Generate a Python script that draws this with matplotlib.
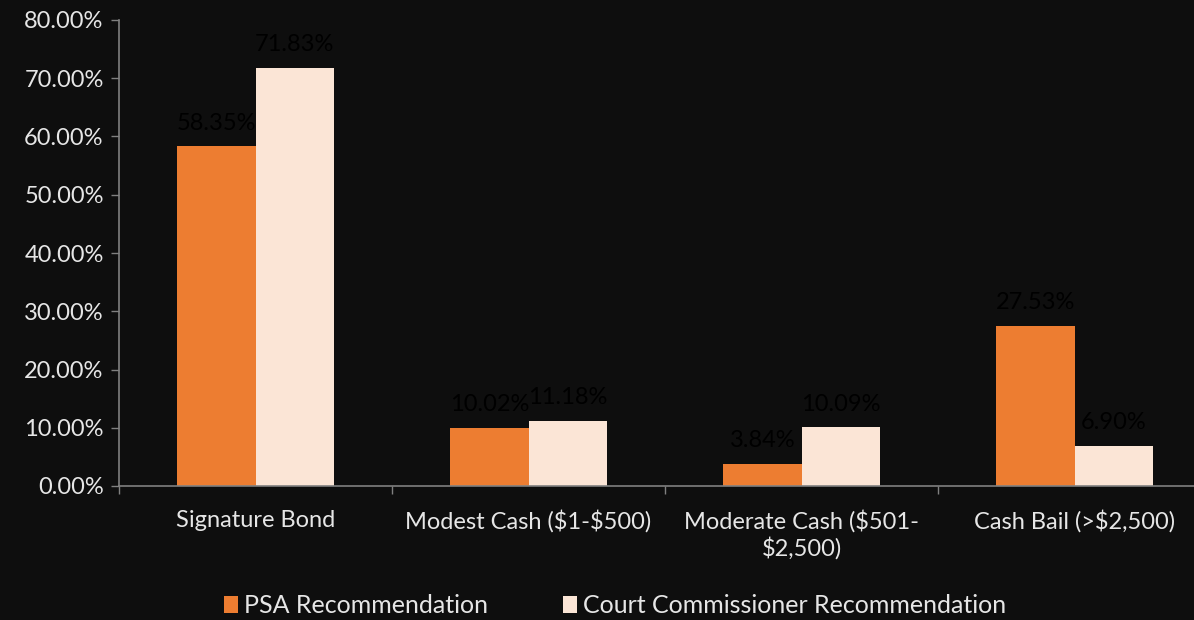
import matplotlib
matplotlib.use("Agg")
import matplotlib.pyplot as plt
import numpy as np
from matplotlib.ticker import MultipleLocator, FuncFormatter

categories = ["Signature Bond", "Modest Cash ($1-$500)",
              "Moderate Cash ($501-\n$2,500)", "Cash Bail (>$2,500)"]
psa = [58.35, 10.02, 3.84, 27.53]
court = [71.83, 11.18, 10.09, 6.90]
series_names = ["PSA Recommendation", "Court Commissioner Recommendation"]

bg = "#0e0e0e"
txt = "#e6e6e6"
orange = "#ed7d31"
peach = "#fbe5d6"

plt.rcParams["font.family"] = ["Lato", "DejaVu Sans"]
plt.rcParams["text.parse_math"] = False

fig = plt.figure(figsize=(11.94, 6.2), dpi=100, facecolor=bg)
ax = fig.add_axes([119 / 1194, 1 - 486 / 620, 1092 / 1194, 466 / 620])
ax.set_facecolor(bg)

fs = 17
x = np.arange(len(categories))
w = 0.287
b1 = ax.bar(x - w / 2, np.array(psa) / 100, w, color=orange, label=series_names[0])
b2 = ax.bar(x + w / 2, np.array(court) / 100, w, color=peach, label=series_names[1])

for bars, vals in ((b1, psa), (b2, court)):
    for r, v in zip(bars, vals):
        ax.annotate(f"{v:.2f}%", (r.get_x() + r.get_width() / 2, r.get_height()),
                    xytext=(0, 9), textcoords="offset points",
                    ha="center", va="bottom", fontsize=fs, color="#000000")

ax.set_xlim(-0.5, len(categories) - 0.5)
ax.set_ylim(0, 0.8)
ax.yaxis.set_major_locator(MultipleLocator(0.1))
ax.yaxis.set_major_formatter(FuncFormatter(lambda v, p: f"{v * 100:.2f}%"))

ax.set_xticks(x)
ax.set_xticklabels(categories, fontsize=fs, color=txt)
ax.set_xticks(np.arange(len(categories) + 1) - 0.5, minor=True)
ax.tick_params(axis="x", which="major", length=0, pad=17)
ax.tick_params(axis="x", which="minor", length=6, color="#808080", width=1)
ax.tick_params(axis="y", labelsize=fs, labelcolor=txt, color="#808080",
               length=6, width=1, pad=5)

for s in ("top", "right"):
    ax.spines[s].set_visible(False)
for s in ("left", "bottom"):
    ax.spines[s].set_color("#808080")
    ax.spines[s].set_linewidth(1.2)

fig.legend(loc="lower center", bbox_to_anchor=(0.515, -0.032), ncol=2, frameon=False,
           fontsize=18, labelcolor=txt, handlelength=0.55, handleheight=0.65,
           handletextpad=0.25, columnspacing=3.0)

fig.savefig("out.png", dpi=100, facecolor=bg)
